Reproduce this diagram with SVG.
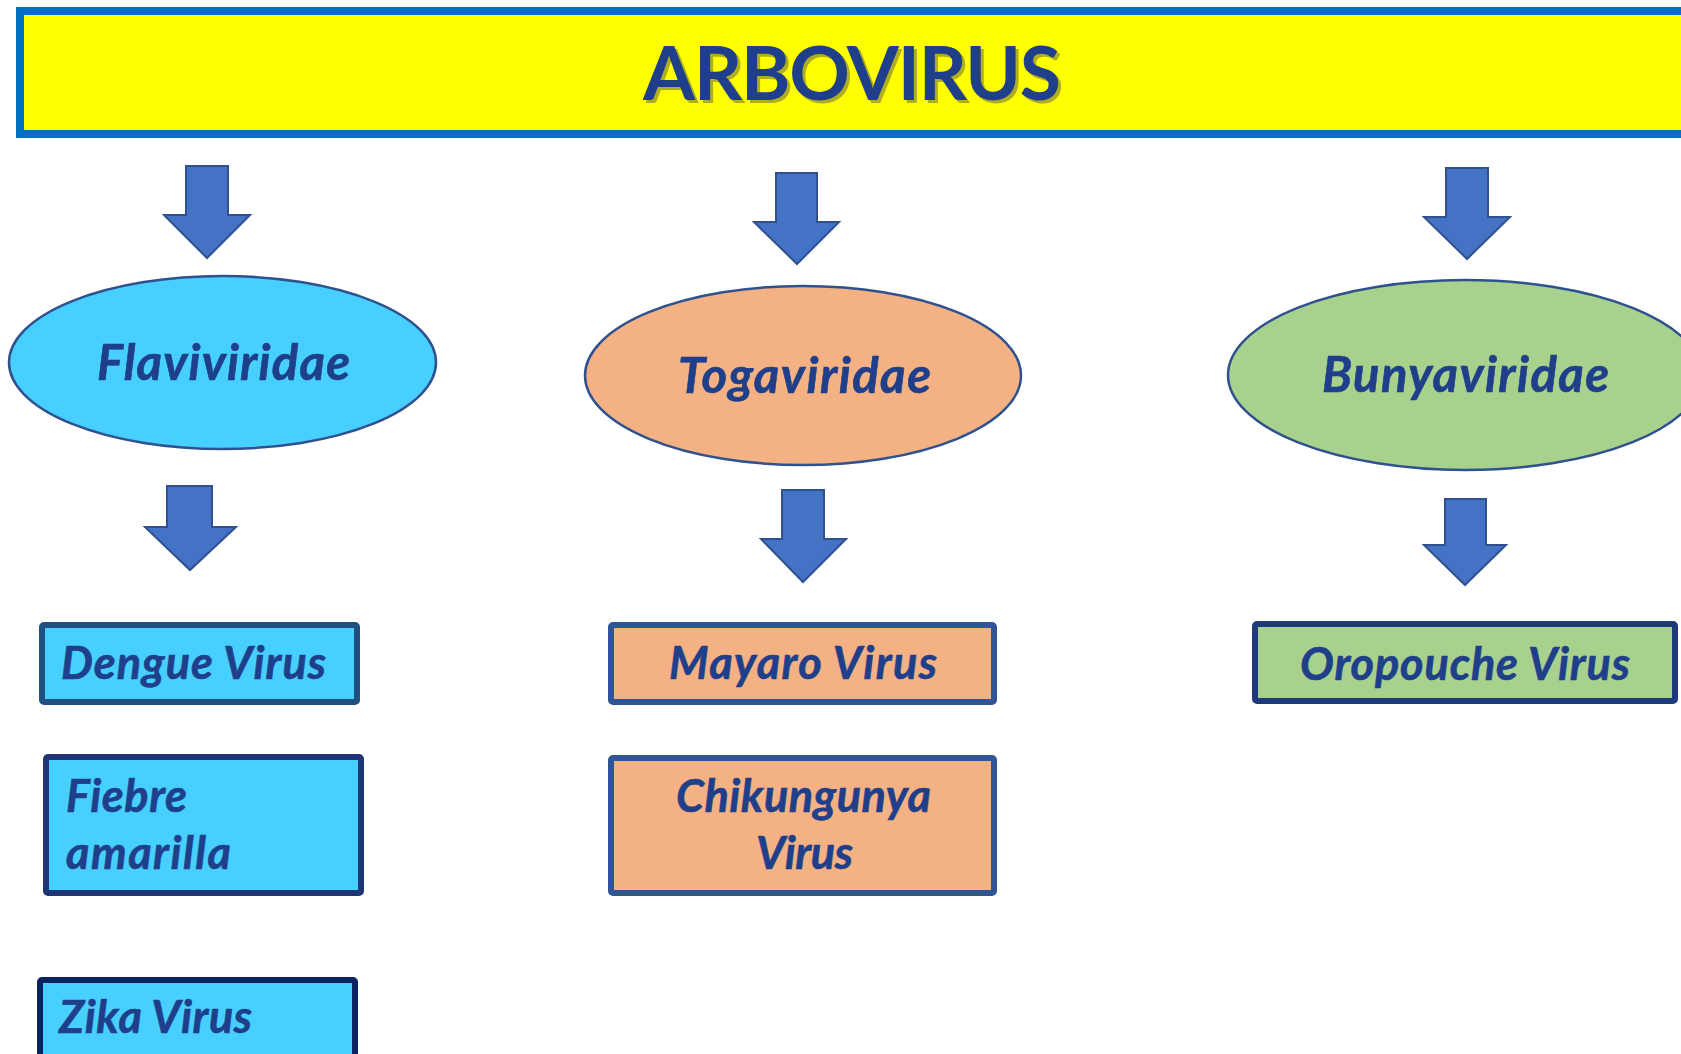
<svg xmlns="http://www.w3.org/2000/svg" width="1681" height="1054" viewBox="0 0 1681 1054">
  <style>
    .lbl { font-family: Lato, "Open Sans", "Liberation Sans", sans-serif; font-weight: 700; font-style: italic; fill: #1F3F8A; font-size: 45px; stroke: #1F3F8A; stroke-width: 0.6px; }
    .elbl { font-size: 49px; }
    .title { font-family: Lato, "Open Sans", "Liberation Sans", sans-serif; font-weight: 700; font-size: 75px; }
    .arrow { fill: #4472C4; stroke: #2F528F; stroke-width: 2; stroke-linejoin: miter; }
    .ell { stroke: #2F528F; stroke-width: 2.5; }
    .box { stroke-width: 6; }
    .cyan { fill: #47CFFF; }
    .peach { fill: #F4B183; }
    .green { fill: #A9D18E; }
  </style>
  <rect width="1681" height="1054" fill="#FFFFFF"/>

  <g id="arbovirus">
    <rect x="20" y="11" width="1700" height="123" fill="#FFFF00" stroke="#0070C0" stroke-width="8"/>
    <text class="title" x="855" y="103" text-anchor="middle" textLength="418" fill="#6B6B3A" fill-opacity="0.55">ARBOVIRUS</text>
    <text class="title" x="852" y="100" text-anchor="middle" textLength="418" fill="#1F3F8A">ARBOVIRUS</text>
  </g>

  <g id="connectors">
    <polygon class="arrow" points="186,166 228,166 228,215 250,215 207,258 164,215 186,215"/>
    <polygon class="arrow" points="167,486 212,486 212,527 236,527 190,570 145,527 167,527"/>
    <polygon class="arrow" points="776,173 817,173 817,222 839,222 797,264 754,222 776,222"/>
    <polygon class="arrow" points="782,490 824,490 824,539 846,539 803,582 761,539 782,539"/>
    <polygon class="arrow" points="1446,168 1488,168 1488,217 1510,217 1467,259 1424,217 1446,217"/>
    <polygon class="arrow" points="1445,499 1486,499 1486,545 1506,545 1465,585 1424,545 1445,545"/>
  </g>

  <g id="flaviviridae">
    <ellipse class="ell cyan" cx="222.5" cy="362.5" rx="213.5" ry="86.5"/>
    <text class="lbl elbl" x="223.5" y="380" text-anchor="middle" textLength="253">Flaviviridae</text>
  </g>
  <g id="togaviridae">
    <ellipse class="ell peach" cx="803" cy="375.5" rx="218" ry="89.5"/>
    <text class="lbl elbl" x="804.5" y="393" text-anchor="middle" textLength="253">Togaviridae</text>
  </g>
  <g id="bunyaviridae">
    <ellipse class="ell green" cx="1465" cy="375" rx="237" ry="95"/>
    <text class="lbl elbl" x="1465.5" y="392" text-anchor="middle" textLength="287">Bunyaviridae</text>
  </g>

  <g id="dengue">
    <rect class="box cyan" x="42" y="625" width="315" height="77" rx="2" stroke="#1F5080"/>
    <text class="lbl" x="61" y="679" textLength="265">Dengue Virus</text>
  </g>
  <g id="fiebre-amarilla">
    <rect class="box cyan" x="46" y="757" width="315" height="136" rx="2" stroke="#1F3574"/>
    <text class="lbl" x="66" y="812" textLength="121">Fiebre</text>
    <text class="lbl" x="66" y="869" textLength="165">amarilla</text>
  </g>
  <g id="zika">
    <rect class="box cyan" x="40" y="980" width="315" height="100" rx="2" stroke="#0A2260"/>
    <text class="lbl" x="59" y="1033" textLength="193">Zika Virus</text>
  </g>
  <g id="mayaro">
    <rect class="box peach" x="611" y="625" width="383" height="77" rx="2" stroke="#2F5597"/>
    <text class="lbl" x="803" y="679" text-anchor="middle" textLength="268">Mayaro Virus</text>
  </g>
  <g id="chikungunya">
    <rect class="box peach" x="611" y="758" width="383" height="135" rx="2" stroke="#2F5597"/>
    <text class="lbl" x="803.5" y="812" text-anchor="middle" textLength="255">Chikungunya</text>
    <text class="lbl" x="804.5" y="869" text-anchor="middle" textLength="97">Virus</text>
  </g>
  <g id="oropouche">
    <rect class="box green" x="1255" y="624" width="420" height="77" rx="2" stroke="#1F3A7A"/>
    <text class="lbl" x="1465" y="680" text-anchor="middle" textLength="330">Oropouche Virus</text>
  </g>
</svg>
